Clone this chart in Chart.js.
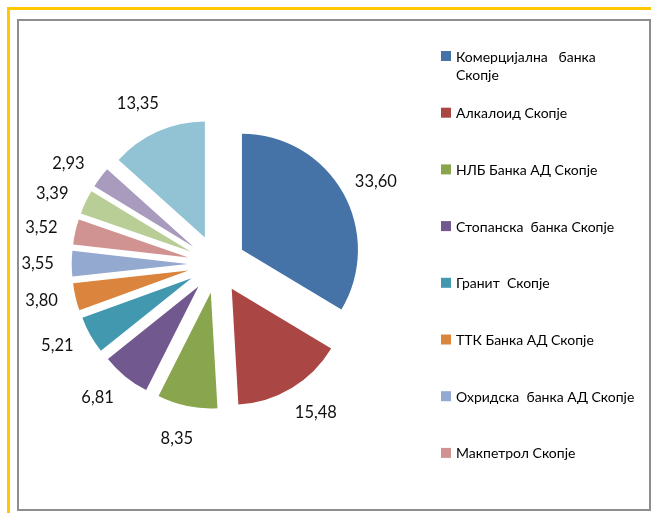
<!DOCTYPE html>
<html><head><meta charset="utf-8">
<script src="https://cdn.jsdelivr.net/npm/chart.js@4"></script>
<style>
html,body{margin:0;padding:0;background:#fff;width:651px;height:513px;overflow:hidden}
#yt{position:absolute;left:7px;top:7px;width:644px;height:3px;background:#FFC800}
#yl{position:absolute;left:7px;top:7px;width:3px;height:506px;background:#FFC800}
#frame{position:absolute;left:17px;top:19px;width:630px;height:488px;border:2px solid #8e8e8e;}
canvas{position:absolute;left:0;top:0}
</style></head>
<body>
<div id="yt"></div><div id="yl"></div><div id="frame"></div>
<canvas id="c" width="651" height="513"></canvas>
<script>
const categories = [['Комерцијална   банка','Скопје'],'Алкалоид Скопје','НЛБ Банка АД Скопје','Стопанска  банка Скопје','Гранит  Скопје','ТТК Банка АД Скопје','Охридска  банка АД Скопје','Макпетрол Скопје','Компанија 9','Компанија 10','Останати'];
const values = [33.60, 15.48, 8.35, 6.81, 5.21, 3.80, 3.55, 3.52, 3.39, 2.93, 13.35];
const colors = ['#4572A7','#AA4643','#89A54E','#71588F','#4198AF','#DB843D','#93A9CF','#D19392','#B9CD96','#A99BBD','#92C3D5'];
const legendShown = 8;

const EXPLODE = 29;
const RADIUS = 116;
const LABEL_GAP = 34;

const explodePlugin = {
  id: 'explode',
  beforeDatasetDraw(chart, args) {
    const ctx = chart.ctx;
    args.meta.data.forEach(arc => {
      const mid = (arc.startAngle + arc.endAngle) / 2;
      ctx.save();
      ctx.translate(Math.cos(mid) * EXPLODE, Math.sin(mid) * EXPLODE);
      arc.draw(ctx);
      ctx.restore();
    });
    return false;
  },
  afterDatasetsDraw(chart) {
    const ctx = chart.ctx;
    const meta = chart.getDatasetMeta(0);
    ctx.save();
    ctx.font = '16.5px Lato';
    ctx.fillStyle = '#111';
    ctx.textAlign = 'center';
    ctx.textBaseline = 'middle';
    meta.data.forEach((arc, i) => {
      const mid = (arc.startAngle + arc.endAngle) / 2;
      let ux = Math.cos(mid) * 1.1, uy = Math.sin(mid);
      const n = Math.hypot(ux, uy); ux /= n; uy /= n;
      const d = arc.outerRadius + EXPLODE + LABEL_GAP;
      const txt = values[i].toFixed(2).replace('.', ',');
      ctx.fillText(txt, arc.x + ux * d, arc.y + uy * d);
    });
    ctx.restore();
  },
  afterDraw(chart) {
    const ctx = chart.ctx;
    ctx.save();
    ctx.font = '14px Lato';
    ctx.textBaseline = 'middle';
    ctx.textAlign = 'left';
    const x0 = 441, tx = 456, y0 = 56, step = 56.7, lh = 18.5;
    for (let i = 0; i < legendShown; i++) {
      const y = y0 + i * step;
      ctx.fillStyle = colors[i];
      ctx.fillRect(x0, y - 5, 10, 10);
      ctx.fillStyle = '#000';
      const lab = chart.data.labels[i];
      const lines = Array.isArray(lab) ? lab : [lab];
      lines.forEach((l, j) => ctx.fillText(l, tx, y + 1 + j * lh));
    }
    ctx.restore();
  }
};

new Chart(document.getElementById('c'), {
  type: 'pie',
  data: {
    labels: categories,
    datasets: [{
      data: values,
      backgroundColor: colors,
      borderWidth: 0,
      radius: RADIUS,
      hoverOffset: 0
    }]
  },
  options: {
    responsive: false,
    animation: false,
    devicePixelRatio: 1,
    layout: { padding: { left: 20, right: 237.6, top: 20, bottom: 5 } },
    plugins: { legend: { display: false }, tooltip: { enabled: false } },
    events: []
  },
  plugins: [explodePlugin]
});
</script>
</body></html>
